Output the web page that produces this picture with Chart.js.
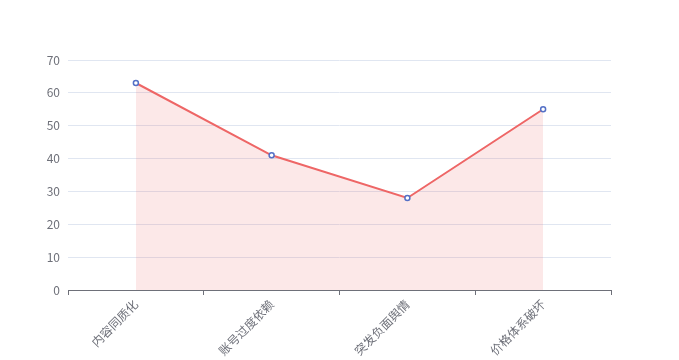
<!DOCTYPE html>
<html>
<head>
<meta charset="utf-8">
<script src="https://cdn.jsdelivr.net/npm/chart.js@4/dist/chart.umd.min.js"></script>
<style>
html,body{margin:0;padding:0;background:#fff;}
canvas{display:block;}
</style>
</head>
<body>
<canvas id="c" width="679" height="360"></canvas>
<script>
const categories = ['内容同质化', '账号过度依赖', '突发负面舆情', '价格体系破坏'];
const values = [63, 41, 28, 55];
const yTicks = [0, 10, 20, 30, 40, 50, 60, 70];

const fontFamily = "'Noto Sans CJK SC', 'Noto Sans', sans-serif";
new Chart(document.getElementById('c'), {
  type: 'line',
  data: {
    labels: categories,
    datasets: [{
      data: values,
      borderColor: '#ee6666',
      backgroundColor: 'rgba(238,102,102,0.15)',
      borderWidth: 2,
      fill: 'origin',
      tension: 0,
      pointRadius: 2.5,
      pointBorderWidth: 1.5,
      pointBackgroundColor: '#ffffff',
      pointBorderColor: '#5470c6'
    }]
  },
  options: {
    responsive: false,
    animation: false,
    layout: { padding: { top: 60, right: 68, left: 0, bottom: 0 } },
    plugins: { legend: { display: false }, tooltip: { enabled: false } },
    scales: {
      x: {
        type: 'category',
        offset: true,
        afterFit: s => { s.height = 70; },
        grid: { display: true, drawOnChartArea: false, drawTicks: true, offset: true, tickLength: 5, color: '#6e7079' },
        border: { display: true, color: '#6e7079', width: 1 },
        ticks: { color: '#6e7079', font: { size: 12, family: fontFamily }, minRotation: 45, maxRotation: 45, padding: 2, autoSkip: false }
      },
      y: {
        min: 0, max: 70,
        afterFit: s => { s.width = 68; },
        afterBuildTicks: s => { s.ticks = yTicks.map(v => ({ value: v })); },
        grid: { color: '#e0e6f1', drawTicks: false },
        border: { display: false },
        ticks: { color: '#6e7079', font: { size: 12, family: fontFamily }, padding: 8 }
      }
    }
  }
});
</script>
</body>
</html>
